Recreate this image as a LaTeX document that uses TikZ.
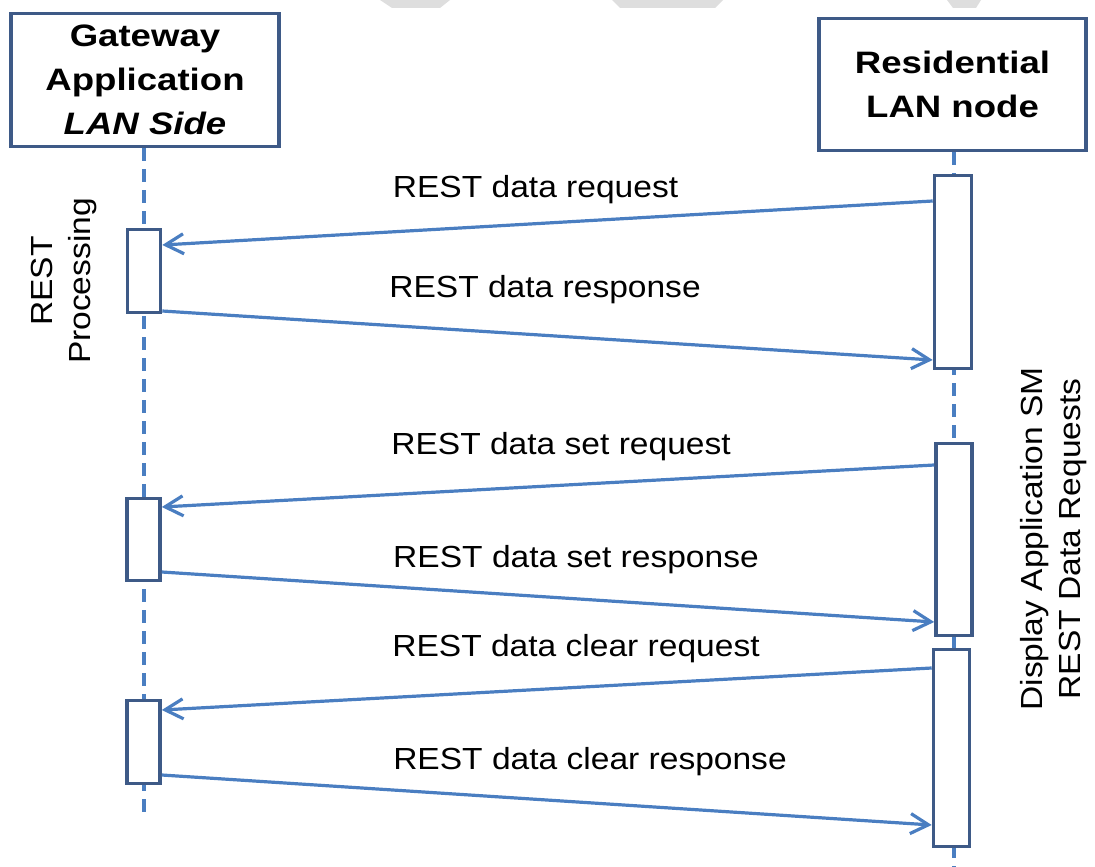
\documentclass[tikz,border=0pt]{standalone}
\usepackage{fontspec}
\setmainfont{Liberation Sans}[FakeStretch=1.1]
\newfontfamily\hdrfont{Liberation Sans}[FakeStretch=1.18]
\usetikzlibrary{arrows.meta,calc}
\definecolor{lineblue}{RGB}{74,126,193}
\definecolor{boxblue}{RGB}{62,90,135}
\definecolor{wmgray}{RGB}{222,222,222}
\begin{document}
\begin{tikzpicture}[x=1pt,y=-1pt,
  hdr/.style={draw=boxblue,line width=3.8pt,fill=white,align=center,inner sep=0,
    font=\hdrfont\bfseries\fontsize{31}{44}\selectfont},
  act/.style={draw=boxblue,line width=3.6pt,fill=white,inner sep=0},
  msg/.style={draw=lineblue,line width=3.2pt,-{Straight Barb[length=18pt,width=20pt]}},
  life/.style={draw=lineblue,line width=3.2pt,dash pattern=on 13pt off 8pt},
  lbl/.style={font=\fontsize{30.5}{36}\selectfont,anchor=base,inner sep=0},
  side/.style={font=\fontsize{30.5}{38}\selectfont,align=center,rotate=90,inner sep=0}]
\useasboundingbox (0,0) rectangle (1095,867);
% watermark marks at the top edge
\fill[wmgray] (380,0) -- (450,0) -- (440,8) -- (392,8) -- cycle;
\fill[wmgray] (612,0) -- (723,0) -- (715,8) -- (620,8) -- cycle;
\fill[wmgray] (947,0) -- (981,0) -- (976,8) -- (953,8) -- cycle;
% headers
\node[hdr,minimum width=268pt,minimum height=133pt] (lh) at (145,80)
  {Gateway\\Application\\\itshape LAN Side};
\node[hdr,minimum width=267pt,minimum height=132pt] (rh) at (952.5,84.5)
  {Residential\\LAN node};
% lifelines
\coordinate (lend) at (144,812);
\coordinate (rend) at (954,867);
\draw[life] (lh.south -| lend) -- (lend);
\draw[life] (rh.south -| rend) -- (rend);
% activation boxes
\node[act,minimum width=33pt,minimum height=83pt] (lb1) at (144,271) {};
\node[act,minimum width=33pt,minimum height=82pt] (lb2) at (143.5,539.5) {};
\node[act,minimum width=33pt,minimum height=83pt] (lb3) at (143.5,742) {};
\node[act,minimum width=37pt,minimum height=193pt] (rb1) at (953,272) {};
\node[act,minimum width=36pt,minimum height=192pt] (rb2) at (954,539.5) {};
\node[act,minimum width=36pt,minimum height=197pt] (rb3) at (951.5,748) {};
% messages
\draw[msg] (rb1.west |- 0,201) -- (lb1.east |- 0,245);
\draw[msg] (lb1.east |- 0,311) -- (rb1.west |- 0,360);
\draw[msg] (rb2.west |- 0,465) -- (lb2.east |- 0,507);
\draw[msg] (lb2.east |- 0,572) -- (rb2.west |- 0,622);
\draw[msg] (rb3.west |- 0,668) -- (lb3.east |- 0,710);
\draw[msg] (lb3.east |- 0,775) -- (rb3.west |- 0,825);
% labels
\node[lbl] (t1) at (535.5,197) {REST data request};
\node[lbl] (t2) at (545,297) {REST data response};
\node[lbl] (t3) at (561,454) {REST data set request};
\node[lbl] (t4) at (576,567) {REST data set response};
\node[lbl] (t5) at (576,656) {REST data clear request};
\node[lbl] (t6) at (590,769) {REST data clear response};
\node[side] (sl) at (64,281) {REST\\Processing};
\node[side] (sr) at (1054,539) {Display Application SM\\REST Data Requests};
\end{tikzpicture}
\end{document}
